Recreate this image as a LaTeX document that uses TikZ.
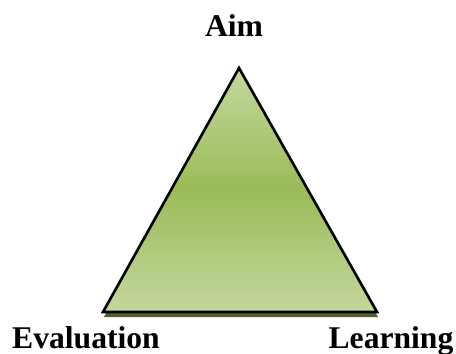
\documentclass[tikz,border=0pt]{standalone}
\usepackage{fontspec}
\setmainfont{Liberation Serif}
\usepackage{tikz}
\usetikzlibrary{positioning,calc}
\definecolor{leafpale}{HTML}{C4D79E}
\definecolor{leafmid}{HTML}{9BBB59}
\definecolor{leafdark}{HTML}{4F6228}
\tikzset{
  cornerlabel/.style={font=\fontsize{18}{20}\selectfont\bfseries, anchor=base, inner sep=0pt},
}

\begin{document}
\begin{tikzpicture}[x=0.02cm, y=-0.02cm]
        \useasboundingbox (0,0) rectangle (456,354);
        % Corners of the triangle
        \coordinate (top) at (239,68);
        \coordinate (left) at (103,312);
        \coordinate (right) at (377,312);
        % Shadow under the base
        \fill[leafdark] ($(top)+(1,5)$) -- ($(left)+(1,5)$) -- ($(right)+(1,5)$) -- cycle;
        % Triangle with green gradient
        \shade[top color=leafpale, bottom color=leafpale, middle color=leafmid]
          (top) -- (left) -- (right) -- cycle;
        \draw[black, line width=1.5pt, line join=miter] (top) -- (left) -- (right) -- cycle;
        % Labels
        \node[cornerlabel] (aim) at (234,37) {Aim};
        \node[cornerlabel] (evaluation) at (86,348) {Evaluation};
        \node[cornerlabel] (learning) at (391,348) {Learning};
      \end{tikzpicture}
\end{document}
